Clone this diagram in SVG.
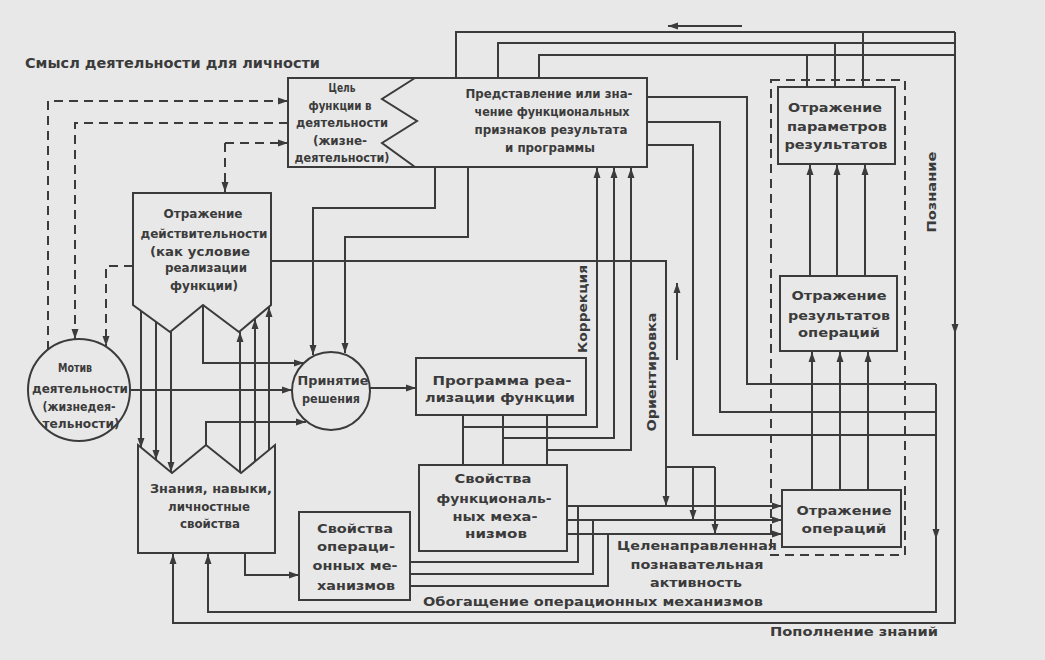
<svg xmlns="http://www.w3.org/2000/svg" width="1045" height="660" viewBox="0 0 1045 660">
<defs>
<style>
.ln{fill:none;stroke:#3b3b3b;stroke-width:2}
.ar{marker-end:url(#ah)}
.ds{stroke-dasharray:9 6}
.bx{fill:#e8e8e8;stroke:#3b3b3b;stroke-width:2}
text{font-family:"DejaVu Sans","Liberation Sans",sans-serif;font-weight:bold;font-size:13px;fill:#3b3b3b;text-anchor:middle}
</style>
<marker id="ah" markerUnits="userSpaceOnUse" markerWidth="11" markerHeight="8" refX="10" refY="4" orient="auto"><path d="M0,0.5 L10,4 L0,7.5 Z" fill="#3b3b3b"/></marker>
</defs>
<rect width="1045" height="660" fill="#e8e8e8"/>

<g id="connectors">
<path class="ln" d="M456,78 V32 H955"/>
<path class="ln" d="M498,78 V43 H955"/>
<path class="ln" d="M539,78 V55 H955"/>
<path class="ln" d="M863,87 V32"/>
<path class="ln" d="M835,87 V43"/>
<path class="ln" d="M807,87 V55"/>
<path class="ln ar" d="M955,32 V334"/>
<path class="ln ar" d="M955,330 V623 H173 V554"/>
<path class="ln ar" d="M742,26 H668"/>

<path class="ln" d="M647,97 H747 V384 H936"/>
<path class="ln" d="M647,122 H720 V412 H936"/>
<path class="ln" d="M647,145 H693 V435 H936"/>
<path class="ln" d="M936,384 V435"/>
<path class="ln ar" d="M936,435 V539"/>
<path class="ln ar" d="M936,535 V612 H208 V554"/>

<path class="ln ar" d="M463,427 H597 V168"/>
<path class="ln ar" d="M503,438 H614 V168"/>
<path class="ln ar" d="M547,450 H631 V168"/>
<path class="ln" d="M463,415 V465 M503,415 V465 M547,415 V465"/>

<path class="ln ar" d="M435,167 V208 H313 V355"/>
<path class="ln ar" d="M468,167 V237 H345 V353"/>

<path class="ln ar" d="M271,261 H666 V506"/>
<path class="ln" d="M666,467 H715"/>
<path class="ln ar" d="M693,467 V520"/>
<path class="ln ar" d="M715,467 V534"/>

<path class="ln ar" d="M567,506 H782"/>
<path class="ln ar" d="M567,520 H782"/>
<path class="ln ar" d="M567,534 H782"/>
<path class="ln" d="M410,562 H578 V506"/>
<path class="ln" d="M410,574 H593 V520"/>
<path class="ln" d="M410,586 H608 V534"/>

<path class="ln ar" d="M810,276 V165"/>
<path class="ln ar" d="M837,276 V165"/>
<path class="ln ar" d="M865,276 V165"/>
<path class="ln ar" d="M812,490 V352"/>
<path class="ln ar" d="M840,490 V352"/>
<path class="ln ar" d="M868,490 V352"/>

<path class="ln ar" d="M370,388 H416"/>
<path class="ln ar" d="M130,390 H292"/>
<path class="ln ar" d="M203,305 V363 H304"/>
<path class="ln ar" d="M206,445 V422 H306"/>
<path class="ln ar" d="M141,311 V448"/>
<path class="ln ar" d="M156,322 V460"/>
<path class="ln ar" d="M171,332 V472"/>
<path class="ln ar" d="M240,472 V332"/>
<path class="ln ar" d="M255,461 V319"/>
<path class="ln ar" d="M269,450 V307"/>
<path class="ln ar" d="M245,553 V575 H299"/>

<path class="ln ds ar" d="M48,350 V101 H288"/>
<path class="ln ds ar" d="M288,123 H75 V339"/>
<path class="ln ds ar" d="M225,143 H288"/>
<path class="ln ds ar" d="M225,143 V192"/>
<path class="ln ds ar" d="M133,266 H106 V346"/>

<path class="ln ar" d="M677,360 V283"/>
<rect class="ln ds" x="771" y="80" width="134" height="475"/>
</g>

<text x="25" y="68" style="text-anchor:start;font-size:14px" textLength="295" lengthAdjust="spacingAndGlyphs">Смысл деятельности для личности</text>

<g id="goal-representation">
<rect class="bx" x="288" y="78" width="359" height="89"/>
<polyline class="ln" points="415,78 382,99 417,121 382,143 415,167"/>
<text x="342" y="92" textLength="27" lengthAdjust="spacingAndGlyphs">Цель</text>
<text x="340" y="110" textLength="63" lengthAdjust="spacingAndGlyphs">функции в</text>
<text x="342" y="127" textLength="92" lengthAdjust="spacingAndGlyphs">деятельности</text>
<text x="340" y="145" textLength="54" lengthAdjust="spacingAndGlyphs">(жизне-</text>
<text x="342" y="162" textLength="95" lengthAdjust="spacingAndGlyphs">деятельности)</text>
<text x="549" y="98" textLength="167" lengthAdjust="spacingAndGlyphs">Представление или зна-</text>
<text x="552" y="116" textLength="155" lengthAdjust="spacingAndGlyphs">чение функциональных</text>
<text x="551" y="134" textLength="153" lengthAdjust="spacingAndGlyphs">признаков результата</text>
<text x="550" y="152" textLength="90" lengthAdjust="spacingAndGlyphs">и программы</text>
</g>

<g id="reality">
<polygon class="bx" points="133,193 271,193 271,305 239,332 203,305 170,332 133,305"/>
<text x="203" y="218" textLength="79" lengthAdjust="spacingAndGlyphs">Отражение</text>
<text x="204" y="238" textLength="127" lengthAdjust="spacingAndGlyphs">действительности</text>
<text x="200" y="256" textLength="100" lengthAdjust="spacingAndGlyphs">(как условие</text>
<text x="206" y="272" textLength="82" lengthAdjust="spacingAndGlyphs">реализации</text>
<text x="204" y="290" textLength="68" lengthAdjust="spacingAndGlyphs">функции)</text>
</g>

<g id="knowledge">
<polygon class="bx" points="138,445 172,473 206,445 241,473 275,445 275,553 138,553"/>
<text x="211" y="493" textLength="122" lengthAdjust="spacingAndGlyphs">Знания, навыки,</text>
<text x="209" y="511" textLength="82" lengthAdjust="spacingAndGlyphs">личностные</text>
<text x="210" y="528" textLength="60" lengthAdjust="spacingAndGlyphs">свойства</text>
</g>

<g id="motive">
<circle class="bx" cx="79" cy="390" r="51"/>
<text x="75" y="372" textLength="34" lengthAdjust="spacingAndGlyphs">Мотив</text>
<text x="80" y="393" textLength="96" lengthAdjust="spacingAndGlyphs">деятельности</text>
<text x="79" y="411" textLength="73" lengthAdjust="spacingAndGlyphs">(жизнедея-</text>
<text x="81" y="428" textLength="77" lengthAdjust="spacingAndGlyphs">тельности)</text>
</g>

<g id="decision">
<circle class="bx" cx="331" cy="391" r="39"/>
<text x="333" y="385" textLength="71" lengthAdjust="spacingAndGlyphs">Принятие</text>
<text x="331" y="403" textLength="58" lengthAdjust="spacingAndGlyphs">решения</text>
</g>

<g id="program">
<rect class="bx" x="416" y="358" width="170" height="57"/>
<text x="502" y="385" textLength="139" lengthAdjust="spacingAndGlyphs">Программа реа-</text>
<text x="500" y="402" textLength="150" lengthAdjust="spacingAndGlyphs">лизации функции</text>
</g>

<g id="func-mech">
<rect class="bx" x="419" y="465" width="148" height="86"/>
<text x="493" y="483" textLength="77" lengthAdjust="spacingAndGlyphs">Свойства</text>
<text x="494" y="503" textLength="115" lengthAdjust="spacingAndGlyphs">функциональ-</text>
<text x="495" y="521" textLength="85" lengthAdjust="spacingAndGlyphs">ных меха-</text>
<text x="496" y="538" textLength="62" lengthAdjust="spacingAndGlyphs">низмов</text>
</g>

<g id="oper-mech">
<rect class="bx" x="299" y="512" width="111" height="88"/>
<text x="355" y="533" textLength="76" lengthAdjust="spacingAndGlyphs">Свойства</text>
<text x="356" y="551" textLength="78" lengthAdjust="spacingAndGlyphs">операци-</text>
<text x="355" y="570" textLength="85" lengthAdjust="spacingAndGlyphs">онных ме-</text>
<text x="356" y="590" textLength="78" lengthAdjust="spacingAndGlyphs">ханизмов</text>
</g>

<g id="param-results">
<rect class="bx" x="778" y="87" width="117" height="77"/>
<text x="835" y="112" textLength="94" lengthAdjust="spacingAndGlyphs">Отражение</text>
<text x="837" y="131" textLength="100" lengthAdjust="spacingAndGlyphs">параметров</text>
<text x="836" y="149" textLength="103" lengthAdjust="spacingAndGlyphs">результатов</text>
</g>

<g id="op-results">
<rect class="bx" x="780" y="276" width="117" height="75"/>
<text x="839" y="300" textLength="95" lengthAdjust="spacingAndGlyphs">Отражение</text>
<text x="839" y="320" textLength="102" lengthAdjust="spacingAndGlyphs">результатов</text>
<text x="839" y="337" textLength="82" lengthAdjust="spacingAndGlyphs">операций</text>
</g>

<g id="operations">
<rect class="bx" x="782" y="490" width="119" height="57"/>
<text x="844" y="515" textLength="95" lengthAdjust="spacingAndGlyphs">Отражение</text>
<text x="844" y="533" textLength="85" lengthAdjust="spacingAndGlyphs">операций</text>
</g>

<g id="labels">
<text x="697" y="550" textLength="160" lengthAdjust="spacingAndGlyphs">Целенаправленная</text>
<text x="697" y="569" textLength="133" lengthAdjust="spacingAndGlyphs">познавательная</text>
<text x="696" y="587" textLength="92" lengthAdjust="spacingAndGlyphs">активность</text>
<text x="593" y="606" textLength="340" lengthAdjust="spacingAndGlyphs">Обогащение операционных механизмов</text>
<text x="854" y="636" textLength="168" lengthAdjust="spacingAndGlyphs">Пополнение знаний</text>
<text transform="translate(587,309) rotate(-90)" textLength="88" lengthAdjust="spacingAndGlyphs">Коррекция</text>
<text transform="translate(656,372) rotate(-90)" textLength="119" lengthAdjust="spacingAndGlyphs">Ориентировка</text>
<text transform="translate(936,192) rotate(-90)" textLength="81" lengthAdjust="spacingAndGlyphs">Познание</text>
</g>
</svg>
